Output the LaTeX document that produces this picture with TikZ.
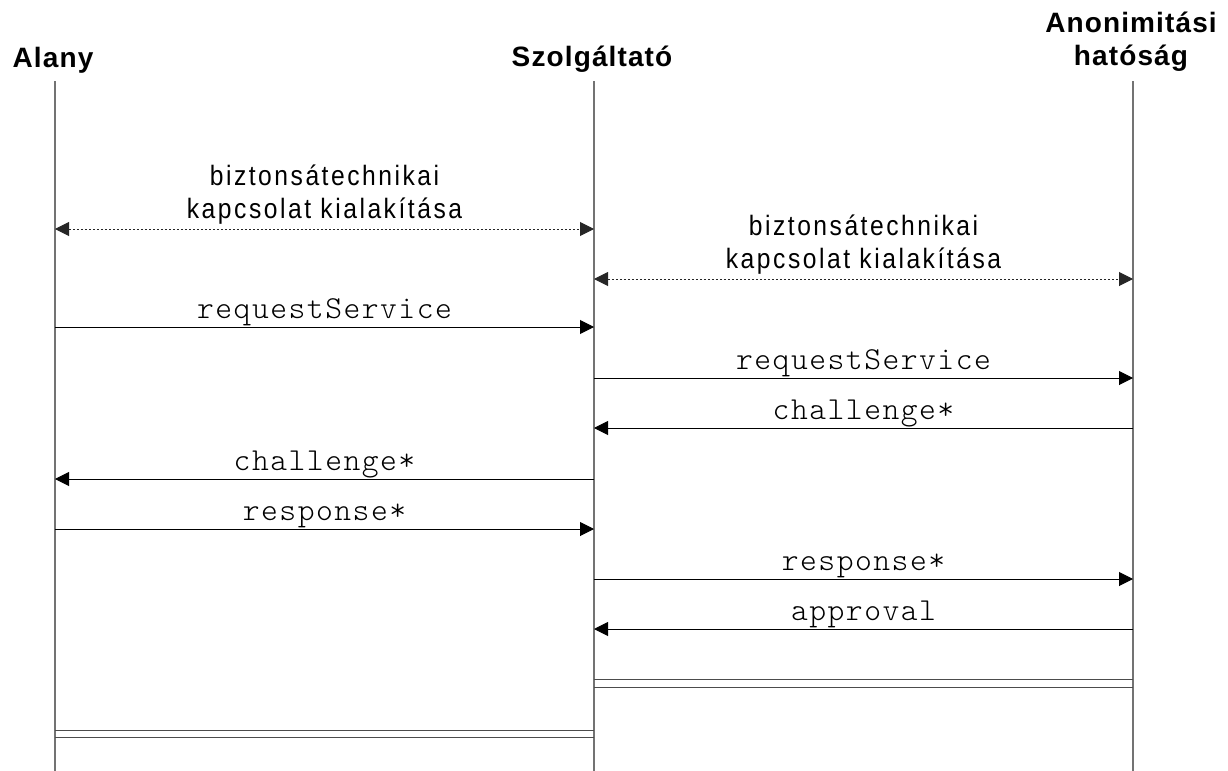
\documentclass[tikz,border=0pt]{standalone}
\usepackage{fontspec}
\setmainfont{Liberation Sans}
\newfontfamily\fejfont[LetterSpace=4]{Liberation Sans}
\newfontfamily\szovegfont[FakeStretch=0.88, LetterSpace=9]{Liberation Sans}
\newfontfamily\kodfont[LetterSpace=4.7]{Latin Modern Mono Light}
\usepackage{tikz}
\usetikzlibrary{arrows.meta}
\usetikzlibrary{positioning}

\tikzset{
  szereplo/.style={font=\fejfont\bfseries\fontsize{14pt}{16.5pt}\selectfont, align=center, anchor=base, inner sep=0pt},
  eletvonal/.style={draw=black!55, line width=0.7pt},
  uzenet/.style={draw=black, line width=0.5pt, -{Triangle[length=7pt,width=7pt]}},
  kapcsolat/.style={draw=black!85, line width=0.5pt, dash pattern=on 1pt off 1pt,
    {Triangle[length=7pt,width=7pt]}-{Triangle[length=7pt,width=7pt]}},
  felirat/.style={font=\kodfont\fontsize{16pt}{18pt}\selectfont, midway, anchor=base, yshift=4.5pt, inner sep=0pt},
  megj/.style={font=\szovegfont\fontsize{14pt}{16.5pt}\selectfont, align=center, midway, anchor=base, yshift=5.5pt, inner sep=0pt},
  zaras/.style={draw=black!70, line width=0.5pt}
}

\begin{document}
\begin{tikzpicture}[x=0.5pt, y=-0.5pt]

        \useasboundingbox (0,0) rectangle (1228,771);

        % Szereplők
        \node[szereplo] (alany) at (53,68) {Alany};
        \node[szereplo] (szolg) at (592,67) {Szolgáltató};
        \node[szereplo] (anon) at (1131,65) {Anonimitási\\hatóság};

        \coordinate (A) at (55,81);
        \coordinate (S) at (594,81);
        \coordinate (N) at (1133,81);
        \coordinate (Av) at (55,771);
        \coordinate (Sv) at (594,771);
        \coordinate (Nv) at (1133,771);

        % Életvonalak
        \draw[eletvonal] (A) -- (Av);
        \draw[eletvonal] (S) -- (Sv);
        \draw[eletvonal] (N) -- (Nv);

        % Üzenetek
        \draw[kapcsolat] (A |- 0,229) -- node[megj] {biztonsátechnikai\\kapcsolat kialakítása} (S |- 0,229);
        \draw[kapcsolat] (S |- 0,279) -- node[megj] {biztonsátechnikai\\kapcsolat kialakítása} (N |- 0,279);
        \draw[uzenet] (A |- 0,327) -- node[felirat] {requestService} (S |- 0,327);
        \draw[uzenet] (S |- 0,378) -- node[felirat] {requestService} (N |- 0,378);
        \draw[uzenet] (N |- 0,428) -- node[felirat] {challenge*} (S |- 0,428);
        \draw[uzenet] (S |- 0,479) -- node[felirat] {challenge*} (A |- 0,479);
        \draw[uzenet] (A |- 0,529) -- node[felirat] {response*} (S |- 0,529);
        \draw[uzenet] (S |- 0,579) -- node[felirat] {response*} (N |- 0,579);
        \draw[uzenet] (N |- 0,629) -- node[felirat] {approval} (S |- 0,629);

        % Lezárás
        \draw[zaras] (S |- 0,679) -- (N |- 0,679);
        \draw[zaras] (S |- 0,687) -- (N |- 0,687);
        \draw[zaras] (A |- 0,730) -- (S |- 0,730);
        \draw[zaras] (A |- 0,737) -- (S |- 0,737);

\end{tikzpicture}
\end{document}
